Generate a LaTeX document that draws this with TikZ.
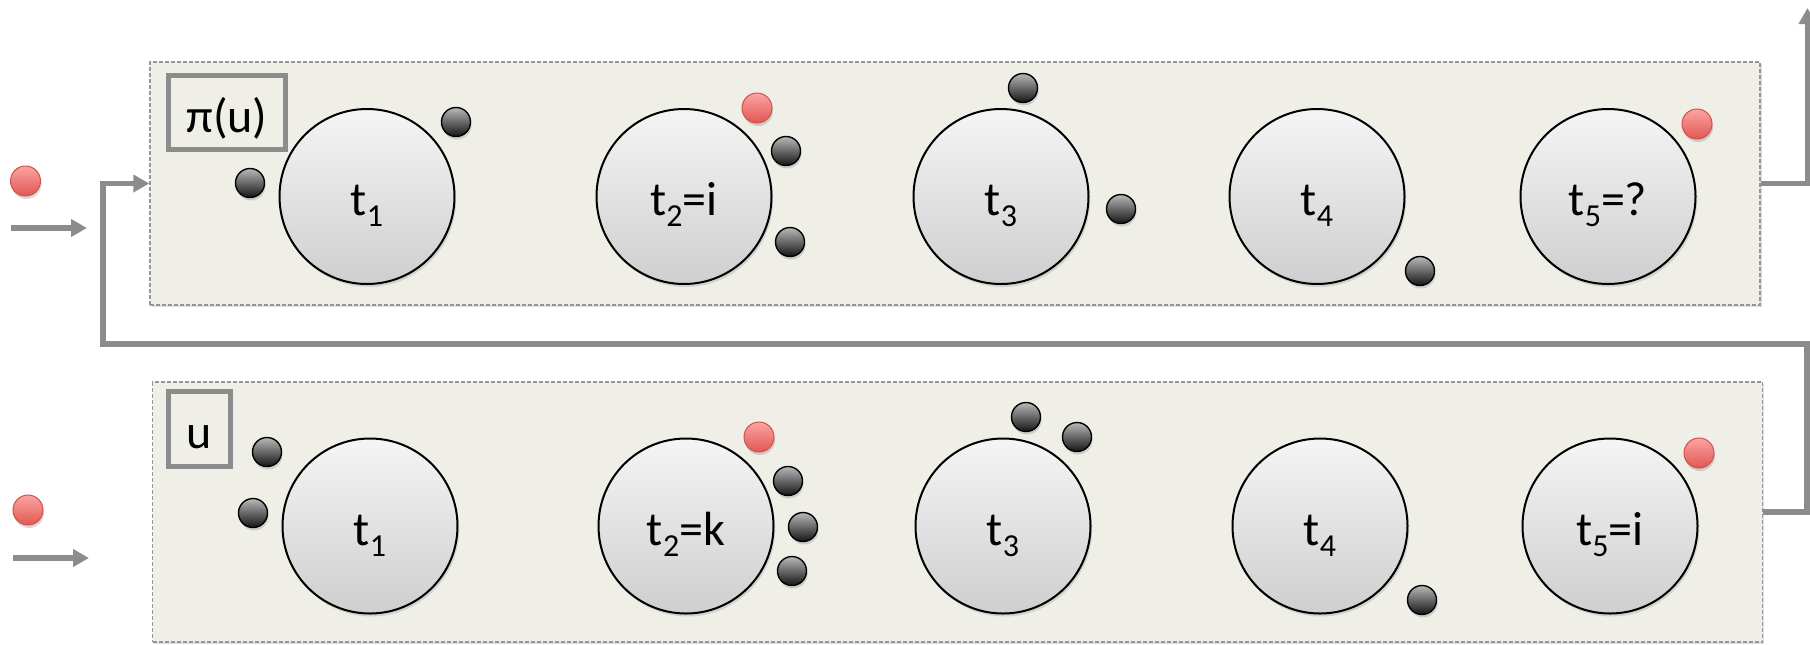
\documentclass[tikz,border=0pt]{standalone}
\usepackage{fontspec}
\setmainfont{Carlito}
\usetikzlibrary{arrows.meta,shadows}
\definecolor{panelbg}{RGB}{239,239,232}
\definecolor{linegray}{RGB}{140,140,140}
\definecolor{dashgray}{RGB}{150,150,150}
\definecolor{redtop}{RGB}{250,165,162}
\definecolor{redbot}{RGB}{226,86,82}
\definecolor{redline}{RGB}{210,80,75}
\newcommand\tsub[1]{\raisebox{-5.5pt}{\fontsize{16}{16}\selectfont #1}}
\begin{document}
\begin{tikzpicture}[x=0.5pt,y=-0.5pt,
 panel/.style={draw=dashgray, dash pattern=on 2pt off 1pt, line width=0.7pt, fill=panelbg, minimum width=805pt, inner sep=0,
   drop shadow={shadow xshift=0.8pt, shadow yshift=-1.2pt, opacity=0.25}},
 lbl/.style={draw=linegray, line width=2.5pt, fill=panelbg, font=\fontsize{24}{28}\selectfont, inner sep=0, text height=19.5pt, text depth=0pt},
 token/.style={circle, draw=black, line width=1pt, top color=gray!8, bottom color=gray!38, minimum size=87.5pt, inner sep=0,
   font=\fontsize{24}{28}\selectfont, text height=19pt, text depth=0pt,
   drop shadow={shadow xshift=0.8pt, shadow yshift=-1.5pt, opacity=0.25}},
 ball/.style={circle, draw=black, line width=0.7pt, top color=gray!55, bottom color=black!92, minimum size=14.5pt, inner sep=0,
   drop shadow={shadow xshift=0.5pt, shadow yshift=-1.5pt, opacity=0.3}},
 rball/.style={circle, draw=redline, line width=0.5pt, top color=redtop, bottom color=redbot, minimum size=15pt, inner sep=0,
   drop shadow={shadow xshift=0.5pt, shadow yshift=-1.5pt, opacity=0.3}},
 conn/.style={draw=linegray, line width=2.6pt},
 arr/.style={conn, -{Triangle[length=8pt,width=8.5pt]}}
]
\useasboundingbox (0,0) rectangle (1810,644);
\clip (0,0) rectangle (1810,644);

% panels
\node[panel, minimum height=121.5pt] (P1) at (955,183.5) {};
\node[panel, minimum height=130pt] (P2) at (957.5,512) {};

% labels
\node[lbl, minimum width=58.5pt, minimum height=37pt] (L1) at (227,112.5) {π(u)};
\node[lbl, minimum width=31pt, minimum height=37.5pt] (L2) at (199.5,429) {u};

% top tokens
\node[token] (T1) at (367,196.5) {t\tsub{1}};
\node[token] (T2) at (684,196.5) {t\tsub{2}=i};
\node[token] (T3) at (1001,196.5) {t\tsub{3}};
\node[token] (T4) at (1317,196.5) {t\tsub{4}};
\node[token] (T5) at (1608,196.5) {t\tsub{5}=?};

% bottom tokens
\node[token] (B1) at (370,526) {t\tsub{1}};
\node[token] (B2) at (686,526) {t\tsub{2}=k};
\node[token] (B3) at (1003,526) {t\tsub{3}};
\node[token] (B4) at (1320,526) {t\tsub{4}};
\node[token] (B5) at (1610,526) {t\tsub{5}=i};

% top balls
\node[rball] (r0) at (25.5,181) {};
\node[ball] (a1) at (250,183) {};
\node[ball] (a2) at (456,122) {};
\node[rball] (r1) at (757,108) {};
\node[ball] (a3) at (786,151) {};
\node[ball] (a4) at (790,242) {};
\node[ball] (a5) at (1023,88) {};
\node[ball] (a6) at (1121,209) {};
\node[ball] (a7) at (1420,271) {};
\node[rball] (r2) at (1697,124) {};

% bottom balls
\node[rball] (s0) at (28,510) {};
\node[ball] (b1) at (267,452) {};
\node[ball] (b2) at (253,513) {};
\node[rball] (s1) at (759,437) {};
\node[ball] (b3) at (788,481) {};
\node[ball] (b4) at (803,527) {};
\node[ball] (b5) at (792,571) {};
\node[ball] (b6) at (1026,417) {};
\node[ball] (b7) at (1077,437) {};
\node[ball] (b8) at (1422,600) {};
\node[rball] (s2) at (1699,453) {};

% connectors
\coordinate (in1s) at (11,228);
\coordinate (in1e) at (87,228);
\coordinate (in2s) at (13,558);
\coordinate (in2e) at (89,558);
\coordinate (fbtop) at (1807.5,8);
\coordinate (c1) at (1807,344);
\coordinate (c2) at (103,344);
\draw[arr] (in1s) -- (in1e);
\draw[arr] (in2s) -- (in2e);
\draw[arr] (P1.east) -| (fbtop);
\draw[arr] (P2.east) -| (c1) -- (c2) |- (P1.west);
\end{tikzpicture}
\end{document}
